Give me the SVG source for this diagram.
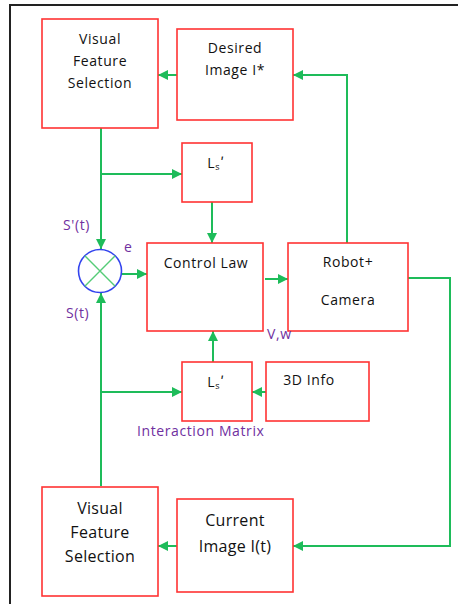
<svg xmlns="http://www.w3.org/2000/svg" width="458" height="604" viewBox="0 0 458 604">
<style>
.box{fill:#fff;stroke:#ff3333;stroke-width:1.6}
.t{font-family:"Open Sans","DejaVu Sans",sans-serif;font-size:14px;fill:#111;text-anchor:middle;letter-spacing:0.6px}
.tb{font-family:"Open Sans","DejaVu Sans",sans-serif;font-size:16px;fill:#111;text-anchor:middle;letter-spacing:0.3px}
.lbl{font-family:"Open Sans","DejaVu Sans",sans-serif;font-size:14px;fill:#7030a0;letter-spacing:0.6px}
.c{fill:none;stroke:#1ebc5a;stroke-width:2}
</style>
<defs>
<marker id="ah" viewBox="0 0 10 10" refX="10" refY="5" markerWidth="10" markerHeight="10" markerUnits="userSpaceOnUse" orient="auto">
<path d="M0,0 L10,5 L0,10 z" fill="#1ebc5a"/>
</marker>
</defs>
<rect width="458" height="604" fill="#fff"/>
<path d="M10,604 V5 H458" fill="none" stroke="#222" stroke-width="2"/>

<g id="connectors">
<path class="c" d="M177,75 H158" marker-end="url(#ah)"/>
<path class="c" d="M347,243 V75 H293" marker-end="url(#ah)"/>
<path class="c" d="M101,128 V249" marker-end="url(#ah)"/>
<path class="c" d="M101,174 H182" marker-end="url(#ah)"/>
<path class="c" d="M212,202 V243" marker-end="url(#ah)"/>
<path class="c" d="M122,274 H147" marker-end="url(#ah)"/>
<path class="c" d="M265,279 H288" marker-end="url(#ah)"/>
<path class="c" d="M407,278 H450 V546 H293" marker-end="url(#ah)"/>
<path class="c" d="M177,546 H158" marker-end="url(#ah)"/>
<path class="c" d="M101,486 V293" marker-end="url(#ah)"/>
<path class="c" d="M101,392 H182" marker-end="url(#ah)"/>
<path class="c" d="M266,392 H252" marker-end="url(#ah)"/>
<path class="c" d="M213,362 V331" marker-end="url(#ah)"/>
</g>

<g id="vfs-top">
<rect class="box" x="42" y="19" width="116" height="109"/>
<text class="t" x="100" y="44">Visual</text>
<text class="t" x="100" y="66">Feature</text>
<text class="t" x="100" y="88">Selection</text>
</g>
<g id="desired">
<rect class="box" x="177" y="29" width="116" height="91"/>
<text class="t" x="235" y="53">Desired</text>
<text class="t" x="235" y="75">Image I*</text>
</g>
<g id="ls-top">
<rect class="box" x="182" y="143" width="70" height="59"/>
<text class="t" x="216" y="168">L<tspan font-size="9" dy="2">s</tspan><tspan dy="-2">ʹ</tspan></text>
</g>
<g id="sum">
<circle cx="100" cy="271" r="21.5" fill="#fff" stroke="#3344ee" stroke-width="1.6"/>
<path d="M84.8,255.8 L115.2,286.2 M115.2,255.8 L84.8,286.2" stroke="#55cc77" stroke-width="1.4"/>
</g>
<g id="control-law">
<rect class="box" x="147" y="243" width="116" height="88"/>
<text class="t" x="206" y="268">Control Law</text>
</g>
<g id="robot">
<rect class="box" x="288" y="243" width="120" height="88"/>
<text class="t" x="348" y="267">Robot+</text>
<text class="t" x="348" y="305">Camera</text>
</g>
<g id="ls-bottom">
<rect class="box" x="182" y="362" width="70" height="59"/>
<text class="t" x="216" y="387">L<tspan font-size="9" dy="2">s</tspan><tspan dy="-2">ʹ</tspan></text>
</g>
<g id="info3d">
<rect class="box" x="266" y="362" width="103" height="59"/>
<text class="t" x="309" y="385">3D Info</text>
</g>
<g id="vfs-bottom">
<rect class="box" x="42" y="487" width="116" height="109"/>
<text class="tb" x="100" y="514">Visual</text>
<text class="tb" x="100" y="538">Feature</text>
<text class="tb" x="100" y="562">Selection</text>
</g>
<g id="current">
<rect class="box" x="177" y="499" width="116" height="93"/>
<text class="tb" x="235" y="526">Current</text>
<text class="tb" x="235" y="552">Image I(t)</text>
</g>

<g id="labels">
<text class="lbl" x="63" y="230">S'(t)</text>
<text class="lbl" x="124" y="252" font-size="12">e</text>
<text class="lbl" x="66" y="318">S(t)</text>
<text class="lbl" x="267" y="339">V,w</text>
<text class="lbl" x="137" y="436">Interaction Matrix</text>
</g>
</svg>
